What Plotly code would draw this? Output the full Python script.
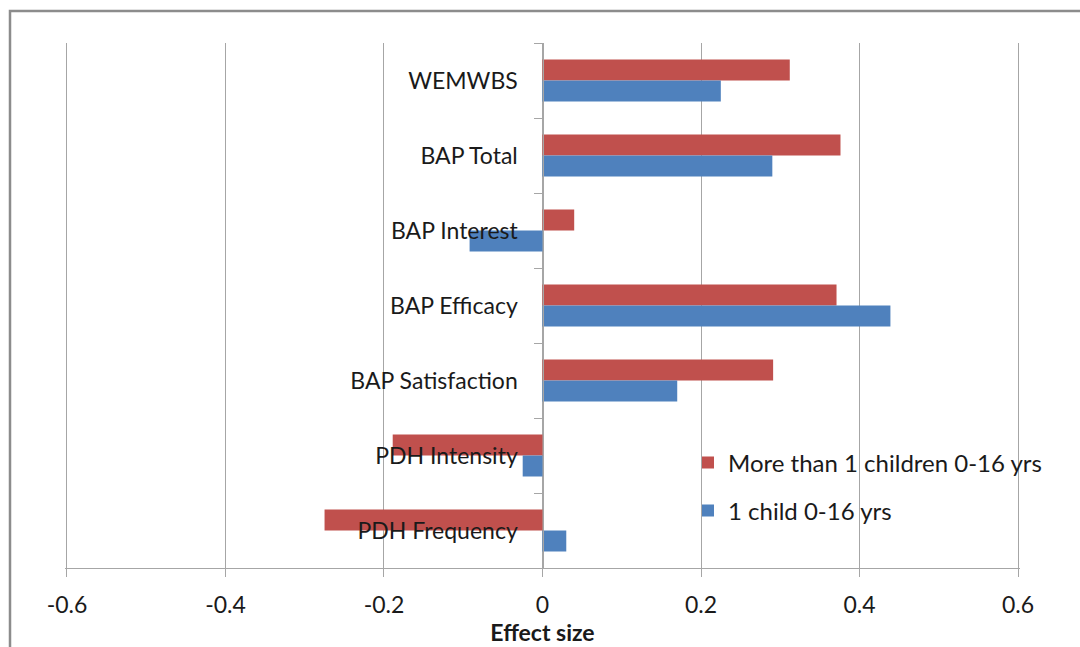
import plotly.graph_objects as go

categories = ["WEMWBS", "BAP Total", "BAP Interest", "BAP Efficacy",
              "BAP Satisfaction", "PDH Intensity", "PDH Frequency"]
more_than_one = [0.312, 0.376, 0.040, 0.371, 0.291, -0.189, -0.275]
one_child = [0.225, 0.290, -0.092, 0.439, 0.170, -0.025, 0.030]
series_names = ["More than 1 children 0-16 yrs", "1 child 0-16 yrs"]
x_ticks = [-0.6, -0.4, -0.2, 0, 0.2, 0.4, 0.6]
x_tick_text = ["-0.6", "-0.4", "-0.2", "0", "0.2", "0.4", "0.6"]

FONT = "Lato"
RED = "#C0504D"
BLUE = "#4F81BD"
GRID = "#A6A6A6"
FS = 23

fig = go.Figure()
fig.add_trace(go.Bar(y=categories, x=more_than_one, orientation="h",
                     name=series_names[0], marker=dict(color=RED, line=dict(width=0)),
                     legend="legend"))
fig.add_trace(go.Bar(y=categories, x=one_child, orientation="h",
                     name=series_names[1], marker=dict(color=BLUE, line=dict(width=0)),
                     legend="legend2"))

W, H = 1080, 647
L, R, T, B = 65, 60, 43, 79
pw, ph = W - L - R, H - T - B

def px(xp):
    return (xp - L) / pw

def py(yp):
    return (H - B - yp) / ph

fig.update_layout(
    width=W, height=H,
    margin=dict(l=L, r=R, t=T, b=B, autoexpand=False),
    paper_bgcolor="white", plot_bgcolor="white",
    barmode="group", bargap=0.44, bargroupgap=0,
    font=dict(family=FONT, size=FS, color="#1a1a1a"),
    xaxis=dict(range=[-0.6025, 0.6025], tickvals=x_ticks, ticktext=x_tick_text,
               showgrid=True, gridcolor=GRID, gridwidth=1.3, zeroline=False,
               showline=True, linecolor=GRID, linewidth=1.3,
               ticks="outside", ticklen=8, tickcolor=GRID, tickwidth=1.3,
               ticklabelstandoff=8,
               title=dict(text="<b>Effect size</b>", font=dict(size=23, family=FONT), standoff=3),
               tickfont=dict(size=FS), automargin=False),
    yaxis=dict(categoryorder="array", categoryarray=categories, autorange="reversed",
               anchor="free", position=0.5, showline=True, linecolor=GRID, linewidth=1.3,
               ticks="outside", ticklen=8, tickcolor=GRID, tickwidth=1.3,
               tickson="boundaries", showgrid=False, zeroline=False,
               ticklabelstandoff=20, tickfont=dict(size=FS), automargin=False),
    legend=dict(x=px(688), y=py(463), xanchor="left", yanchor="middle",
                bgcolor="rgba(0,0,0,0)", font=dict(size=24)),
    legend2=dict(x=px(688), y=py(511), xanchor="left", yanchor="middle",
                 bgcolor="rgba(0,0,0,0)", font=dict(size=24)),
    showlegend=True,
    shapes=[dict(type="rect", xref="paper", yref="paper",
                 x0=px(10), x1=px(1095), y0=py(665), y1=py(11),
                 line=dict(color="#8C8C8C", width=2.5), fillcolor="rgba(0,0,0,0)",
                 layer="below")],
)

fig.write_html("out.html")
